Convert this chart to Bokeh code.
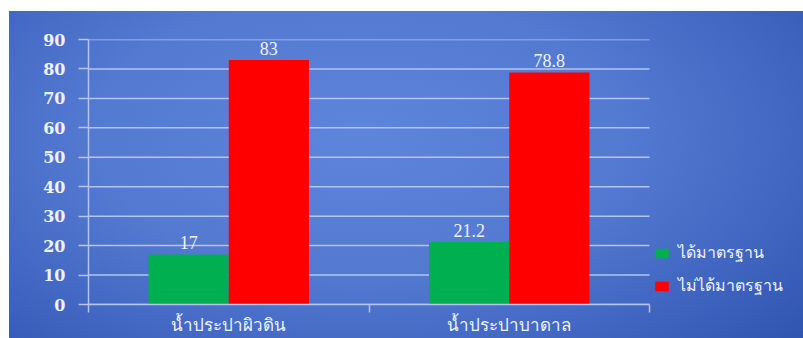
from bokeh.plotting import figure
from bokeh.models import Range1d, FixedTicker, ColumnDataSource, Legend, LegendItem, LabelSet
from bokeh.embed import file_html
from bokeh.resources import INLINE

categories = ["น้ำประปาผิวดิน", "น้ำประปาบาดาล"]
series_names = ["ได้มาตรฐาน", "ไม่ได้มาตรฐาน"]
standard = [17, 21.2]
not_standard = [83, 78.8]
series_colors = ["#00b050", "#ff0000"]
y_ticks = [0, 10, 20, 30, 40, 50, 60, 70, 80, 90]

n_cat = len(categories)
bar_w = 0.286
offsets = [-bar_w / 2, bar_w / 2]
centers = [i + 0.5 for i in range(n_cat)]

# plot area (561 px for the categories) plus room on the right for the legend (154 px)
x_end = n_cat * (561 + 154) / 561

p = figure(width=794, height=327, output_backend="svg", toolbar_location=None,
           x_range=Range1d(0, x_end), y_range=Range1d(0, 90),
           min_border_left=79, min_border_right=0, min_border_top=28, min_border_bottom=34)
p.margin = (11, 0, 0, 9)
p.styles = {"background": "radial-gradient(ellipse 75% 95% at 44% 38%, #5f84db 0%, #5479d1 45%, #3d62be 80%, #2e54b0 100%)"}
p.background_fill_color = None
p.border_fill_color = None
p.outline_line_color = None

grid_col = "#b4c4ec"
text_col = "#eef2fa"

# horizontal gridlines limited to the category area
p.xgrid.visible = False
p.ygrid.visible = False
p.segment(x0=[0] * len(y_ticks), x1=[n_cat] * len(y_ticks), y0=y_ticks, y1=y_ticks,
          line_color=grid_col, line_width=1.5)

renderers = []
for vals, off, col in zip([standard, not_standard], offsets, series_colors):
    src = ColumnDataSource(dict(x=[c + off for c in centers], top=vals,
                                txt=[f"{v:g}" for v in vals]))
    r = p.vbar(x="x", top="top", width=bar_w, source=src, fill_color=col, line_color=None)
    renderers.append(r)
    p.add_layout(LabelSet(x="x", y="top", text="txt", source=src, text_align="center",
                          text_baseline="bottom", y_offset=5, text_color=text_col,
                          text_font="DejaVu Serif", text_font_size="18px"))

ya = p.yaxis[0]
ya.ticker = FixedTicker(ticks=y_ticks)
ya.axis_line_color = grid_col
ya.axis_line_width = 1.5
ya.major_tick_line_color = grid_col
ya.major_tick_line_width = 1.5
ya.major_tick_out = 10
ya.major_tick_in = 0
ya.minor_tick_line_color = None
ya.major_label_standoff = 13
ya.major_label_text_color = text_col
ya.major_label_text_font = "DejaVu Serif"
ya.major_label_text_font_style = "bold"
ya.major_label_text_font_size = "16px"

xa = p.xaxis[0]
xa.bounds = (0, n_cat)
xa.ticker = FixedTicker(ticks=centers, minor_ticks=list(range(n_cat + 1)))
xa.major_label_overrides = {c: name for c, name in zip(centers, categories)}
xa.axis_line_color = grid_col
xa.axis_line_width = 1.5
xa.major_tick_line_color = None
xa.major_tick_out = 0
xa.major_tick_in = 0
xa.minor_tick_line_color = grid_col
xa.minor_tick_line_width = 1.5
xa.minor_tick_out = 8
xa.minor_tick_in = 0
xa.major_label_standoff = 0
xa.major_label_text_color = text_col
xa.major_label_text_font = "Noto Sans"
xa.major_label_text_font_size = "17px"

legend = Legend(items=[LegendItem(label=n, renderers=[r]) for n, r in zip(series_names, renderers)],
                location=(565, 6), padding=0, margin=0, border_line_color=None,
                background_fill_alpha=0, glyph_width=17, glyph_height=12, label_height=20,
                spacing=8, label_standoff=8, label_text_color=text_col,
                label_text_font="Noto Sans", label_text_font_size="16px")
p.add_layout(legend)

open("out.html", "w").write(file_html(p, INLINE))
